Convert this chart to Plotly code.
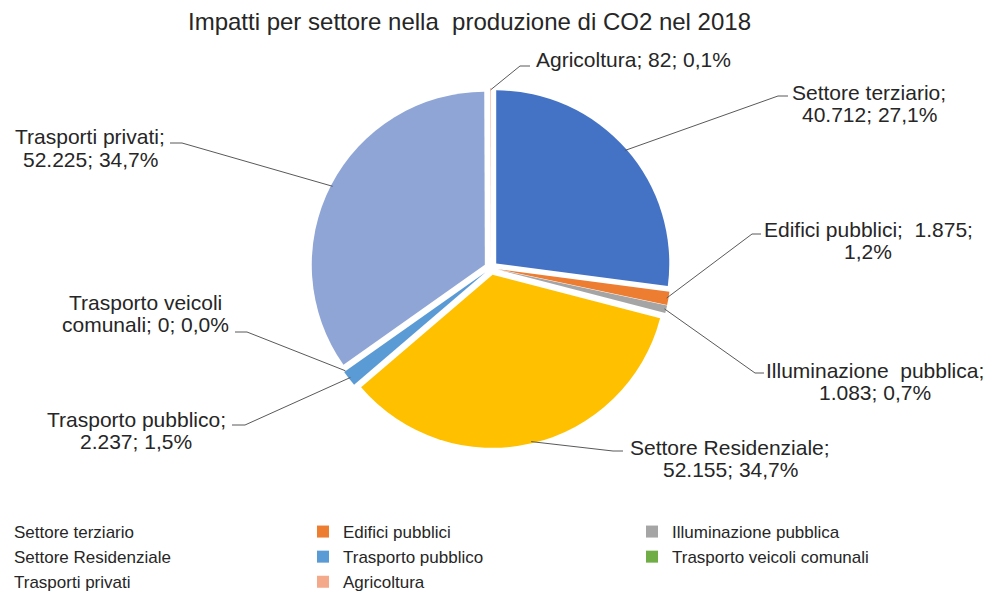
import math
import plotly.graph_objects as go

# ---- data ----
categories = ["Settore terziario", "Edifici pubblici", "Illuminazione pubblica",
              "Settore Residenziale", "Trasporto pubblico", "Trasporto veicoli comunali",
              "Trasporti privati", "Agricoltura"]
values = [40712, 1875, 1083, 52155, 2237, 0, 52225, 82]
label_names = ["Settore terziario", "Edifici pubblici", "Illuminazione\u00a0 pubblica",
               "Settore Residenziale", "Trasporto pubblico", "Trasporto veicoli<br>comunali",
               "Trasporti privati", "Agricoltura"]
sep_name_value = [";<br>", ";\u00a0 ", ";<br>", ";<br>", ";<br>", "; ", ";<br>", "; "]
sep_value_pct = ["; ", ";<br>", "; ", "; ", "; ", "; ", "; ", "; "]
colors = ["#4472C4", "#ED7D31", "#A5A5A5", "#FFC000", "#5B9BD5", "#70AD47", "#8FA5D6", "#F4A98A"]
title_text = "Impatti per settore nella\u00a0 produzione di CO2 nel 2018"

# ---- layout constants ----
# the page body has an 8px margin, so the figure starts 8px in from the window's corner
OFF = 8
W, H = 987, 585
B = 79                              # bottom margin holding the legend
PH = H - B                          # plot-area height
CX, CY, R = 491, 268, 180           # pie centre / outer radius in window pixels
PULL = 0.04
FONT = "Liberation Sans, Arial, sans-serif"
TXT = "#262626"
LINE_GAP = 22                       # line spacing inside data labels

# label centre x / first-line centre y, and leader elbows (window pixels)
label_pos = [(869, 92), (868, 229), (875, 370), (730, 447),
             (136, 419), (145, 302), (90, 137), (633, 60)]
elbow_pos = [(778, 96, 788), (752, 234, 761), (755, 373, 764), (613, 451, 623),
             (245, 425, 232), (247, 332, 235), (182, 143, 170), (520, 66, 530)]


def px(x):
    return (x - OFF) / W


def py(y):
    return (PH - (y - OFF)) / PH


total = sum(values)

fig = go.Figure(go.Pie(
    labels=categories, values=values, sort=False, direction="clockwise", rotation=0,
    marker=dict(colors=colors, line=dict(width=0)),
    pull=[PULL] * len(values), textinfo="none", hoverinfo="label+value+percent",
    domain=dict(x=[px(CX - R), px(CX + R)], y=[py(CY + R), py(CY - R)]),
))

annotations = []
shapes = []
cum = 0
for i, v in enumerate(values):
    mid = (cum + v / 2) / total * 2 * math.pi
    cum += v
    tx = CX + R * 0.99 * math.sin(mid)
    ty = CY - R * 0.99 * math.cos(mid)
    ex, ey, endx = elbow_pos[i]
    shapes.append(dict(type="path", xref="paper", yref="paper",
                       path=f"M {px(tx)} {py(ty)} L {px(ex)} {py(ey)} L {px(endx)} {py(ey)}",
                       line=dict(color="#595959", width=1)))
    val_s = f"{v:,}".replace(",", ".")
    pct_s = f"{v / total * 100:.1f}".replace(".", ",") + "%"
    text = label_names[i] + sep_name_value[i] + val_s + sep_value_pct[i] + pct_s
    lx, ly = label_pos[i]
    for k, line in enumerate(text.split("<br>")):
        annotations.append(dict(x=px(lx), y=py(ly + k * LINE_GAP), xref="paper", yref="paper",
                                text=line, showarrow=False, xanchor="center", yanchor="middle",
                                font=dict(family=FONT, size=21, color=TXT)))

fig.update_layout(
    width=W, height=H,
    margin=dict(l=0, r=0, t=0, b=B, autoexpand=False),
    paper_bgcolor="white", plot_bgcolor="white",
    title=dict(text=title_text, x=(469.5 - OFF) / W, xanchor="center",
               y=1 - (22 - OFF) / H, yanchor="middle", yref="container",
               font=dict(family=FONT, size=24, color=TXT)),
    showlegend=True,
    legend=dict(orientation="h", x=-34 / W, xanchor="left", y=0, yanchor="top",
                entrywidth=284, entrywidthmode="pixels", traceorder="normal",
                font=dict(family=FONT, size=17, color=TXT),
                bgcolor="rgba(0,0,0,0)", itemwidth=30),
    annotations=annotations, shapes=shapes,
)

fig.write_html("out.html")
